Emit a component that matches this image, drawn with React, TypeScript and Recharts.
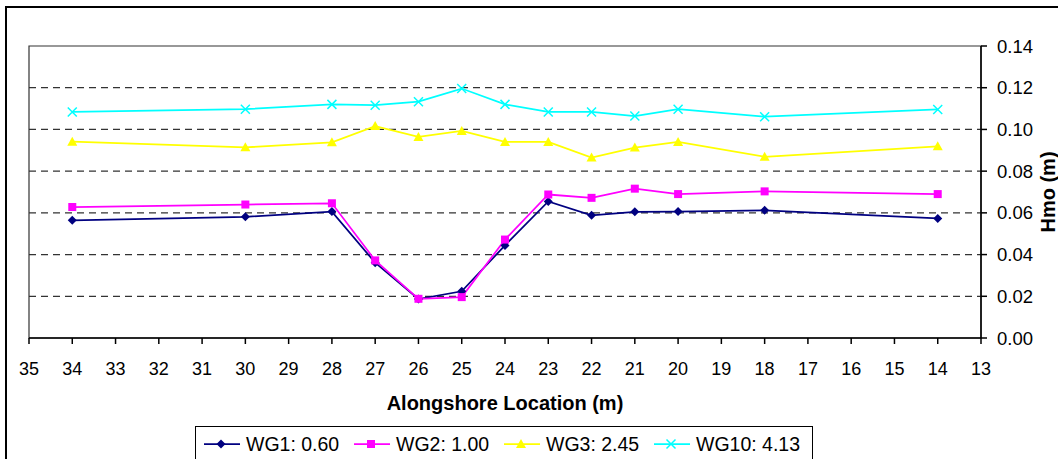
import {
  CartesianGrid,
  Label,
  Legend,
  Line,
  LineChart,
  ReferenceArea,
  XAxis,
  YAxis
} from 'recharts';

const locations = [34, 30, 28, 27, 26, 25, 24, 23, 22, 21, 20, 18, 14];
const wg1 = [0.0564, 0.0581, 0.0606, 0.0361, 0.0187, 0.0224, 0.0444, 0.0655, 0.0588, 0.0605, 0.0606, 0.0612, 0.0573];
const wg2 = [0.0628, 0.064, 0.0646, 0.0372, 0.0188, 0.0196, 0.0472, 0.0688, 0.0672, 0.0716, 0.069, 0.0703, 0.069];
const wg3 = [0.0941, 0.0914, 0.0938, 0.1016, 0.0964, 0.0993, 0.094, 0.094, 0.0865, 0.0913, 0.094, 0.0869, 0.0919];
const wg10 = [0.1084, 0.1097, 0.112, 0.1116, 0.1133, 0.1196, 0.112, 0.1084, 0.1084, 0.1064, 0.1097, 0.1061, 0.1096];

const xTicks = [35, 34, 33, 32, 31, 30, 29, 28, 27, 26, 25, 24, 23, 22, 21, 20, 19, 18, 17, 16, 15, 14, 13];
const yTicks = [0, 0.02, 0.04, 0.06, 0.08, 0.1, 0.12, 0.14];
const gridValues = [0.02, 0.04, 0.06, 0.08, 0.1, 0.12];

const seriesNames = ['WG1: 0.60', 'WG2: 1.00', 'WG3: 2.45', 'WG10: 4.13'];

const data = locations.map((loc, i) => ({
  loc,
  wg1: wg1[i],
  wg2: wg2[i],
  wg3: wg3[i],
  wg10: wg10[i]
}));

const FONT = '"Liberation Sans", Arial, sans-serif';

type MarkerProps = { cx: number; cy: number };

function Diamond({ cx, cy }: MarkerProps) {
  const r = 4.5;
  return (
    <path
      d={`M${cx},${cy - r}L${cx + r},${cy}L${cx},${cy + r}L${cx - r},${cy}Z`}
      fill="#000080"
    />
  );
}

function Square({ cx, cy }: MarkerProps) {
  return <rect x={cx - 4} y={cy - 4} width={8} height={8} fill="#ff00ff" />;
}

function Triangle({ cx, cy }: MarkerProps) {
  return (
    <path
      d={`M${cx},${cy - 5}L${cx + 5},${cy + 4}L${cx - 5},${cy + 4}Z`}
      fill="#ffff00"
    />
  );
}

function Cross({ cx, cy }: MarkerProps) {
  const r = 4.5;
  return (
    <path
      d={`M${cx - r},${cy - r}L${cx + r},${cy + r}M${cx - r},${cy + r}L${cx + r},${cy - r}`}
      stroke="#00ffff"
      strokeWidth={1.5}
      fill="none"
    />
  );
}

const series = [
  { key: 'wg1', color: '#000080', Marker: Diamond },
  { key: 'wg2', color: '#ff00ff', Marker: Square },
  { key: 'wg3', color: '#ffff00', Marker: Triangle },
  { key: 'wg10', color: '#00ffff', Marker: Cross }
];

function LegendBox() {
  return (
    <svg width={618} height={40} style={{ display: 'block' }}>
      {series.map((s, i) => {
        const x0 = 8 + i * 150;
        const M = s.Marker;
        return (
          <g key={s.key}>
            <line x1={x0} x2={x0 + 36} y1={17} y2={17} stroke={s.color} strokeWidth={1.75} />
            <M cx={x0 + 17} cy={17} />
            <text x={x0 + 42} y={24} fontSize={19.5} fontFamily={FONT} fill="#000">
              {seriesNames[i]}
            </text>
          </g>
        );
      })}
    </svg>
  );
}

export default function App() {
  return (
    <div
      style={{
        position: 'absolute',
        left: 0,
        top: 0,
        width: 1058,
        height: 459,
        overflow: 'hidden',
        background: '#fff',
        fontFamily: FONT
      }}
    >
      <div
        style={{
          position: 'absolute',
          left: 5,
          top: 6,
          width: 1100,
          height: 451,
          borderLeft: '2px solid #000',
          borderTop: '2px solid #000',
          borderBottom: '1px solid #c0c0c0'
        }}
      />
      <div style={{ position: 'absolute', left: 0, top: 0 }}>
        <LineChart
          width={1058}
          height={459}
          data={data}
          margin={{ top: 46, right: 0, bottom: 61, left: 29 }}
        >
          <CartesianGrid
            horizontal
            vertical={false}
            horizontalValues={gridValues}
            stroke="#333"
            strokeWidth={1.2}
            strokeDasharray="7 5"
          />
          <ReferenceArea
            x1={35}
            x2={13}
            y1={0}
            y2={0.14}
            stroke="#333"
            strokeWidth={1.2}
            fill="none"
            ifOverflow="visible"
          />
          <XAxis
            dataKey="loc"
            type="number"
            domain={[13, 35]}
            reversed
            ticks={xTicks}
            interval={0}
            height={60}
            tickSize={6}
            tickMargin={18}
            stroke="#000"
            strokeWidth={1.5}
            tick={{ fill: '#000', fontSize: 18, fontFamily: FONT }}
          >
            <Label
              content={(props: any) => {
                const vb = props.viewBox;
                return (
                  <text
                    x={vb.x + vb.width / 2}
                    y={vb.y + 65}
                    dy="0.355em"
                    textAnchor="middle"
                    fontSize={20}
                    fontWeight="bold"
                    fontFamily={FONT}
                    fill="#000"
                  >
                    Alongshore Location (m)
                  </text>
                );
              }}
            />
          </XAxis>
          <YAxis
            orientation="right"
            domain={[0, 0.14]}
            ticks={yTicks}
            width={77}
            tickSize={6}
            tickMargin={10}
            stroke="#000"
            strokeWidth={1.5}
            tickFormatter={(v: number) => v.toFixed(2)}
            tick={{ fill: '#000', fontSize: 18.5, fontFamily: FONT }}
          >
            <Label
              content={(props: any) => {
                const vb = props.viewBox;
                const cx = 1048;
                const cy = vb.y + vb.height / 2;
                return (
                  <text
                    x={cx}
                    y={cy}
                    dy="0.355em"
                    textAnchor="middle"
                    transform={`rotate(-90, ${cx}, ${cy})`}
                    fontSize={20}
                    fontWeight="bold"
                    fontFamily={FONT}
                    fill="#000"
                  >
                    Hmo (m)
                  </text>
                );
              }}
            />
          </YAxis>
          {series.map((s) => {
            const M = s.Marker;
            return (
              <Line
                key={s.key}
                dataKey={s.key}
                type="linear"
                stroke={s.color}
                strokeWidth={1.75}
                isAnimationActive={false}
                dot={(p: any) => <M key={`${s.key}-${p.index}`} cx={p.cx} cy={p.cy} />}
                activeDot={false}
              />
            );
          })}
          <Legend
            layout="horizontal"
            align="center"
            verticalAlign="middle"
            content={() => <LegendBox />}
            wrapperStyle={{
              left: 195,
              top: 426,
              width: 618,
              height: 50,
              border: '1px solid #000',
              background: '#fff',
              boxSizing: 'border-box'
            }}
          />
        </LineChart>
      </div>
    </div>
  );
}
